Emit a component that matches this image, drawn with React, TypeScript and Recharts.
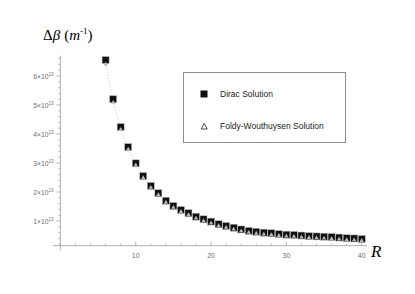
import { ComposedChart, Scatter, Line, XAxis, YAxis, ReferenceLine } from 'recharts'

// R values (x) and Δβ in units of 10^13 m^-1
const R = [6, 7, 8, 9, 10, 11, 12, 13, 14, 15, 16, 17, 18, 19, 20, 21, 22, 23, 24, 25, 26, 27, 28, 29, 30, 31, 32, 33, 34, 35, 36, 37, 38, 39, 40]
const DIRAC = [6.55, 5.2, 4.24, 3.55, 2.99, 2.55, 2.21, 1.96, 1.7, 1.52, 1.38, 1.27, 1.15, 1.06, 0.98, 0.89, 0.83, 0.77, 0.71, 0.66, 0.63, 0.6, 0.58, 0.55, 0.53, 0.52, 0.5, 0.48, 0.47, 0.46, 0.45, 0.43, 0.41, 0.4, 0.38]
const FOLDY = [6.45, 5.13, 4.2, 3.52, 2.97, 2.53, 2.2, 1.95, 1.69, 1.51, 1.37, 1.26, 1.14, 1.05, 0.97, 0.88, 0.82, 0.76, 0.7, 0.65, 0.62, 0.59, 0.57, 0.54, 0.52, 0.51, 0.49, 0.47, 0.46, 0.45, 0.44, 0.42, 0.4, 0.39, 0.37]

const X_TICKS = [2, 4, 6, 8, 10, 12, 14, 16, 18, 20, 22, 24, 26, 28, 30, 32, 34, 36, 38, 40]
const X_LABELS = [10, 20, 30, 40]
const Y_LABELS = [1, 2, 3, 4, 5, 6]
const Y_TICKS = Array.from({ length: 33 }, (_, i) => Math.round((i + 1) * 2) / 10)

const X_DOMAIN = [0, 40.7]
const Y_DOMAIN = [0.15, 6.7]

const AXIS = '#9a9a9a'
const LABEL = '#6e6e6e'

const data = R.map((r, i) => ({ r, dirac: DIRAC[i], foldy: FOLDY[i] }))

function XTick(props: any) {
  const { x, y, payload } = props
  const major = X_LABELS.includes(payload.value)
  return (
    <g>
      <line x1={x} x2={x} y1={y} y2={y - (major ? 4 : 2)} stroke={AXIS} strokeWidth={0.7} />
      {major && (
        <text x={x} y={y + 12} textAnchor="middle" fontSize={7} fill={LABEL} fontFamily="Liberation Sans">
          {payload.value}
        </text>
      )}
    </g>
  )
}

function YTick(props: any) {
  const { x, y, payload } = props
  const v = payload.value
  const major = Y_LABELS.some((m) => Math.abs(m - v) < 1e-6)
  return (
    <g>
      <line x1={x} x2={x - (major ? 4 : 2)} y1={y} y2={y} stroke={AXIS} strokeWidth={0.7} />
      {major && (
        <text x={53.5} y={y + 2.5} textAnchor="end" fontSize={6.8} fill={LABEL} fontFamily="Liberation Sans">
          {Math.round(v)}×10
          <tspan fontSize={4.5} dy={-3}>13</tspan>
        </text>
      )}
    </g>
  )
}

function Square(props: any) {
  const { cx, cy } = props
  return <rect x={cx - 3.5} y={cy - 3.5} width={7} height={7} fill="#111" stroke="#bbb" strokeWidth={0.5} />
}

function Triangle(props: any) {
  const { cx, cy } = props
  return <path d={`M${cx - 2.2},${cy + 2.6} L${cx + 2.2},${cy + 2.6} L${cx},${cy - 1.3} Z`} fill="#b8b8b8" />
}

export default function App() {
  return (
    <div style={{ position: 'absolute', left: 0, top: 0, width: 415, height: 294, background: '#fff' }}>
      <ComposedChart
        width={415}
        height={294}
        data={data}
        margin={{ top: 55.7, right: 48, bottom: 18.3, left: 0.4 }}
      >
        <XAxis
          dataKey="r"
          type="number"
          domain={X_DOMAIN}
          ticks={X_TICKS}
          interval={0}
          allowDataOverflow
          height={30}
          tickSize={0}
          tickMargin={0}
          tickLine={false}
          axisLine={{ stroke: AXIS, strokeWidth: 0.8 }}
          tick={<XTick />}
        />
        <YAxis
          type="number"
          domain={Y_DOMAIN}
          ticks={Y_TICKS}
          interval={0}
          allowDataOverflow
          width={60}
          tickSize={0}
          tickMargin={0}
          tickLine={false}
          axisLine={{ stroke: AXIS, strokeWidth: 0.8 }}
          tick={<YTick />}
        />
        <ReferenceLine
          segment={[{ x: -1, y: Y_DOMAIN[0] }, { x: 0, y: Y_DOMAIN[0] }]}
          stroke={AXIS}
          strokeWidth={0.8}
          ifOverflow="visible"
        />
        <ReferenceLine
          segment={[{ x: 0, y: Y_DOMAIN[0] }, { x: 0, y: 0.0 }]}
          stroke={AXIS}
          strokeWidth={0.8}
          ifOverflow="visible"
        />
        <Line
          dataKey="foldy"
          type="linear"
          stroke="#aaa"
          strokeWidth={0.7}
          strokeDasharray="1 2"
          dot={false}
          isAnimationActive={false}
        />
        <Scatter dataKey="dirac" shape={<Square />} isAnimationActive={false} />
        <Scatter dataKey="foldy" shape={<Triangle />} isAnimationActive={false} />
      </ComposedChart>

      <svg width={415} height={294} style={{ position: 'absolute', left: 0, top: 0, pointerEvents: 'none' }}>
        <text x={43} y={40} fontSize={15} fontFamily="Liberation Serif" fill="#000">
          Δ<tspan fontStyle="italic">β</tspan>
          <tspan dx={4}>(</tspan>
          <tspan fontStyle="italic">m</tspan>
          <tspan fontSize={9} dy={-6}>-1</tspan>
          <tspan dy={6}>)</tspan>
        </text>
        <text x={371} y={257} fontSize={17} fontStyle="italic" fontFamily="Liberation Serif" fill="#000">
          R
        </text>

        <rect x={183.5} y={72.5} width={162} height={70} fill="#fff" stroke="#8c8c8c" strokeWidth={1} />
        <rect x={200.5} y={90.5} width={7} height={7} fill="#111" />
        <text x={220} y={97} fontSize={8.5} fontFamily="Liberation Sans" fill="#222">
          Dirac Solution
        </text>
        <path d="M201.2,129 L207.2,129 L204.2,123.4 Z" fill="none" stroke="#222" strokeWidth={0.8} />
        <text x={220} y={129} fontSize={8.5} fontFamily="Liberation Sans" fill="#222">
          Foldy-Wouthuysen Solution
        </text>
      </svg>
    </div>
  )
}
